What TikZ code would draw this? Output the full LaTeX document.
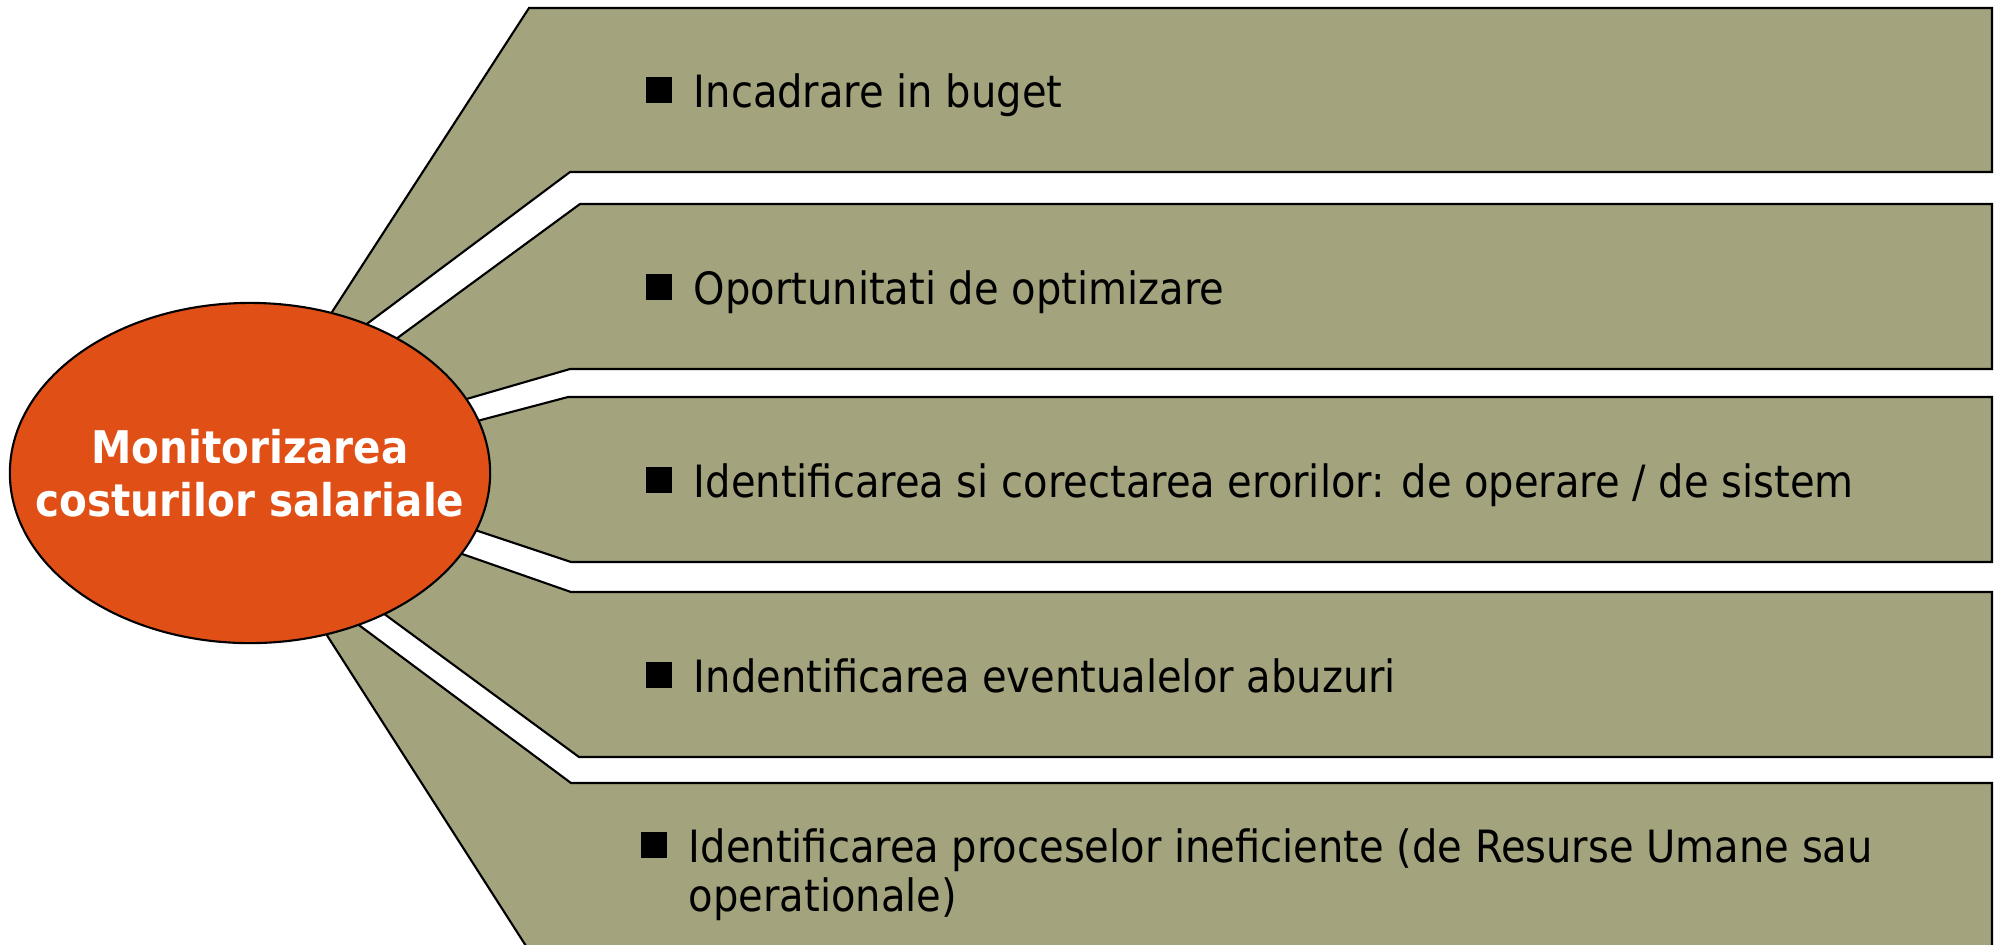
\documentclass[tikz,border=0pt]{standalone}
\usepackage{fontspec}
\setmainfont{DejaVu Sans Condensed}
\usetikzlibrary{shapes.geometric}

\definecolor{bandolive}{RGB}{163,163,126}
\definecolor{huborange}{RGB}{224,79,21}

\newcommand{\bul}{\raisebox{1.14pt}{\rule{7.4pt}{7.4pt}}\hspace{6.3pt}}

\tikzset{
  band/.style={fill=bandolive, draw=black, line width=0.6pt, line join=miter},
  hubfill/.style={fill=huborange, draw=black, line width=0.6pt},
  hub/.style={inner sep=0pt, align=center, text=white,
    font=\fontsize{12.8}{15.2}\selectfont\bfseries},
  point/.style={anchor=base west, inner sep=0pt, align=left,
    font=\fontsize{12.65}{13.9}\selectfont}
}

\begin{document}
\begin{tikzpicture}[x=0.01cm, y=-0.01cm]
    \useasboundingbox (0,0) rectangle (1996,944);

    \path[band] (529,8) -- (1992,8) -- (1992,172) -- (570,172) -- (336,347)
    -- (250,473) -- (310,346) -- cycle; \path[band] (580,204) -- (1992,204)
    -- (1992,369) -- (570,369) -- (432,409) -- (250,473) -- (366,361) --
    cycle; \path[band] (568,397) -- (1992,397) -- (1992,562) -- (571,562) --
    (442,519) -- (250,473) -- (443,430) -- cycle; \path[band] (571,592) --
    (1992,592) -- (1992,757) -- (579,757) -- (353,591) -- (250,473) --
    (425,541) -- cycle; \path[band] (571,783) -- (1992,783) -- (1992,960) --
    (535,960) -- (305,601) -- (250,473) -- (328,602) -- cycle;

    \path[hubfill] (250,473) ellipse [x radius=2.4cm, y radius=1.7cm];
    \node[hub] (hub) at (250,473) {Monitorizarea\\costurilor salariale};

    \node[point] (buget) at (645,107) {\bul Incadrare in buget}; \node[point]
    (optim) at (645,304) {\bul Oportunitati de optimizare}; \node[point]
    (erori) at (645,497) {\bul Identificarea si corectarea erorilor: de
    operare / de sistem}; \node[point] (abuz) at (645,692) {\bul
    Indentificarea eventualelor abuzuri}; \node[point] (procese) at (640,911)
    {\bul Identificarea proceselor ineficiente (de Resurse Umane
    sau\\\hspace*{13.7pt}operationale)};
\end{tikzpicture}
\end{document}
